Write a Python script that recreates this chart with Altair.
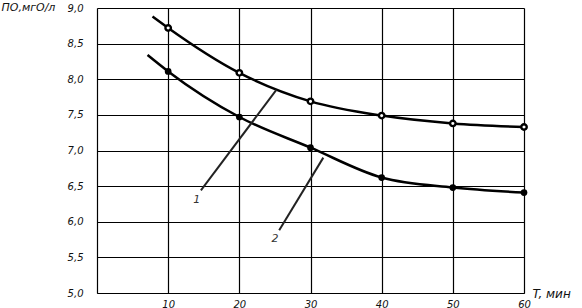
import altair as alt
import pandas as pd

# Curve 1 (upper, open markers)
c1_x = [7.8, 10, 20, 30, 40, 50, 60]
c1_y = [8.88, 8.72, 8.09, 7.69, 7.49, 7.38, 7.33]
c1_marker = [False, True, True, True, True, True, True]

# Curve 2 (lower, filled markers)
c2_x = [7.1, 10, 20, 30, 40, 50, 60]
c2_y = [8.34, 8.11, 7.47, 7.04, 6.62, 6.48, 6.41]
c2_marker = [False, True, True, True, True, True, True]

# Leader lines: x, y, x2, y2 and labels
lead_x = [14.6, 25.6]
lead_y = [6.44, 5.88]
lead_x2 = [25.2, 31.8]
lead_y2 = [7.85, 6.90]
lab_x = [14.0, 25.0]
lab_y = [6.30, 5.76]
lab_text = ["1", "2"]

y_ticks = [5.0, 5.5, 6.0, 6.5, 7.0, 7.5, 8.0, 8.5, 9.0]
x_ticks = [10, 20, 30, 40, 50, 60]

FONT = "DejaVu Sans"

d1 = pd.DataFrame({"x": c1_x, "y": c1_y, "m": c1_marker})
d2 = pd.DataFrame({"x": c2_x, "y": c2_y, "m": c2_marker})
dl = pd.DataFrame({"x": lead_x, "y": lead_y, "x2": lead_x2, "y2": lead_y2})
dt = pd.DataFrame({"x": lab_x, "y": lab_y, "t": lab_text})

xs = alt.Scale(domain=[0, 60], nice=False, zero=False)
ys = alt.Scale(domain=[5, 9], nice=False, zero=False)

X = alt.X("x:Q", scale=xs, axis=alt.Axis(
    values=x_ticks, title="T,  мин", titleAngle=0, titleAlign="left",
    titleBaseline="middle", titleX=435, titleY=0, titleFontWeight="normal",
    titleFontStyle="italic", titleFont=FONT, titleFontSize=12, titleColor="#111",
    labelFont=FONT, labelFontStyle="italic", labelFontSize=10, labelColor="#111",
    labelPadding=6, ticks=False, grid=True, gridColor="black", gridWidth=1.2,
    domainColor="black", domainWidth=1.2, labelFlush=False))
Y = alt.Y("y:Q", scale=ys, axis=alt.Axis(
    values=y_ticks, title="ПО,мгО/л", titleAngle=0, titleAlign="left",
    titleBaseline="middle", titleX=-96, titleY=-1, titleFontWeight="normal",
    titleFontStyle="italic", titleFont=FONT, titleFontSize=11, titleColor="#111",
    labelExpr="replace(format(datum.value, '.1f'), '.', ',')",
    labelFont=FONT, labelFontStyle="italic", labelFontSize=10, labelColor="#111",
    labelPadding=14, ticks=False, grid=True, gridColor="black", gridWidth=1.2,
    domainColor="black", domainWidth=1.2, labelFlush=False))

line1 = alt.Chart(d1).mark_line(color="black", strokeWidth=2.5, interpolate="monotone").encode(x=X, y=Y)
line2 = alt.Chart(d2).mark_line(color="black", strokeWidth=2.5, interpolate="monotone").encode(x=X, y=Y)
pts1 = alt.Chart(d1).transform_filter("datum.m").mark_point(
    shape="circle", filled=True, fill="white", stroke="black", strokeWidth=2.4, size=30, opacity=1
).encode(x=X, y=Y)
pts2 = alt.Chart(d2).transform_filter("datum.m").mark_point(
    shape="circle", filled=True, color="black", size=45, opacity=1
).encode(x=X, y=Y)
leads = alt.Chart(dl).mark_rule(color="#222", strokeWidth=2).encode(
    x=X, y=Y, x2="x2:Q", y2="y2:Q")
labels = alt.Chart(dt).mark_text(font=FONT, fontStyle="italic", fontSize=11, color="#333").encode(
    x=X, y=Y, text="t:N")

chart = alt.layer(line1, line2, leads, pts1, pts2, labels).properties(
    width=427, height=285,
    autosize=alt.AutoSizeParams(type="none"),
    padding={"left": 97, "top": 8, "right": 58, "bottom": 15},
).configure_view(stroke="black", strokeWidth=1.2).configure(background="white")

chart.save("out.html", embed_options={"renderer": "svg", "actions": False})
